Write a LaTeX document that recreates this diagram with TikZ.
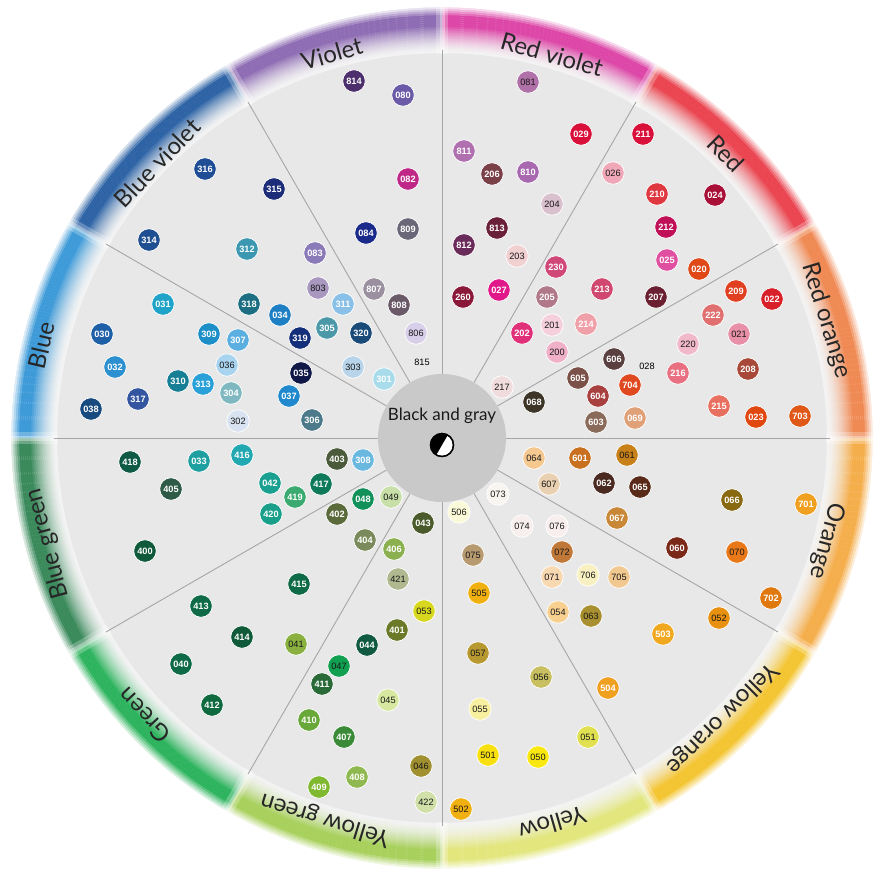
\documentclass[tikz,border=0pt]{standalone}
\usepackage{fontspec}
\setmainfont{Lato}
\newfontfamily\numfont{Liberation Sans}
\newfontfamily\labfont{Lato}
\definecolor{graybg}{HTML}{E8E8E8}
\definecolor{ringin}{HTML}{F3F3F3}
\definecolor{centergray}{HTML}{C9C9C9}
\definecolor{linegray}{HTML}{A6A6A6}
\definecolor{cViolet}{HTML}{8F6DB4}
\definecolor{cRedViolet}{HTML}{DD48A8}
\definecolor{cRed}{HTML}{EA4550}
\definecolor{cRedOrange}{HTML}{F08A55}
\definecolor{cOrange}{HTML}{F5AE4C}
\definecolor{cYellowOrange}{HTML}{F4C532}
\definecolor{cYellow}{HTML}{E2E67C}
\definecolor{cYellowGreen}{HTML}{A8D05C}
\definecolor{cGreen}{HTML}{2EB45E}
\definecolor{cBlueGreen}{HTML}{3A8A5C}
\definecolor{cBlue}{HTML}{3F9BD8}
\definecolor{cBlueViolet}{HTML}{2E64A6}
\begin{document}
\begin{tikzpicture}[x=1pt,y=1pt,
  dot/.style={circle, minimum size=22.5pt, inner sep=0pt, draw=white, line width=0.7pt,
    font=\numfont\fontsize{9.2}{10}\selectfont},
  tW/.style={text=white, font=\numfont\fontsize{9.2}{10}\selectfont\bfseries},
  tK/.style={text=black!90},
  tN/.style={draw=none, text=black},
  seclabel/.style={font=\labfont\fontsize{24}{26}\selectfont, text=black!85, inner sep=0pt},
  sepline/.style={linegray, line width=0.9pt}]
\useasboundingbox (0,0) rectangle (884,-876);
\fill[white] (0,0) rectangle (884,-876);
\begin{scope}[shift={(442,-438)}]
  \fill[graybg] (0,0) circle (386);
  % colour ring built from thin bands
  \foreach \a/\cc in {75/cRedViolet, 45/cRed, 15/cRedOrange, -15/cOrange, -45/cYellowOrange,
      -75/cYellow, -105/cYellowGreen, -135/cGreen, -165/cBlueGreen, 165/cBlue,
      135/cBlueViolet, 105/cViolet} {
    \foreach \rr in {386,388,...,422} {
      \pgfmathsetmacro\pp{\rr<412 ? 100*((\rr-386)/26)^1.5 : 100}
      \draw[line width=2.3pt, color=\cc!\pp!ringin] (\a-15:\rr) arc[start angle=\a-15, end angle=\a+15, radius=\rr];
    }
    \foreach \rr in {424,426,...,432} {
      \pgfmathsetmacro\pp{100-(\rr-422)*10}
      \draw[line width=2.3pt, color=\cc!\pp!white] (\a-15:\rr) arc[start angle=\a-15, end angle=\a+15, radius=\rr];
    }
  }
  % soft white seams between colours
  \foreach \b in {0,30,...,330} {
    \draw[white, opacity=0.25, line width=12pt] (\b:384) -- (\b:436);
    \draw[white, opacity=0.35, line width=5pt] (\b:384) -- (\b:436);
  }
  % sector lines
  \foreach \b in {0,30,...,330} {
    \draw[sepline] (\b:64) -- (\b:388);
  }
  % centre
  \node[circle, fill=centergray, minimum size=128pt, inner sep=0pt] (center) at (0,0) {};
  \node[font=\labfont\fontsize{17}{19}\selectfont, text=black!90, inner sep=0pt] (bgtext) at (0,22) {Black and gray};
  \node[circle, fill=white, draw=black, line width=1.3pt, minimum size=23pt, inner sep=0pt] (icon) at (0,-7) {};
  \fill[black] (5.75,2.96) arc[start angle=60, end angle=240, radius=11.5] -- cycle;
  \draw[black, line width=1.3pt] (0,-7) circle (11.5);
  % sector labels
  \foreach \a/\rr/\nm/\txt in {106/400/lv/Violet, 74/399/lrv/Red violet, 45/402/lr/Red,
      17/402/lro/Red orange, -15/398/lo/Orange, -45/396/lyo/Yellow orange,
      -74/401/ly/Yellow, -107/399/lyg/Yellow green, -137/407/lg/Green,
      -165/408/lbg/Blue green, 167/411/lb/Blue, 136/396/lbv/Blue violet} {
    \node[seclabel, rotate=\a-90] (\nm) at (\a:\rr) {\txt};
  }
\end{scope}
% colour dots
\foreach \nn/\xx/\yy/\cc/\tc in {
814/354/81/4E2F6E/W, 080/403/95/6A5AA8/W, 082/408/179/C02888/W, 084/366/233/1A2A8A/W,
809/408/229/6A6878/W, 083/315/253/8A7AB8/W, 803/318/288/A898C0/K, 807/374/289/9A90A0/W,
808/399/305/6A5A68/W, 311/343/304/88C0E8/W, 806/416/333/D8D0EA/K, 815/422/362/E8E8E8/N,
316/205/169/1F4E96/W, 315/274/189/1C2C78/W, 314/149/240/1E4F92/W, 312/247/249/3B98B0/W,
318/249/304/1D6E82/W, 034/280/315/1F7FC4/W, 319/300/338/15307A/W, 305/327/328/4A98A8/W,
320/361/333/1A4A78/W, 303/353/367/B8D4EA/K, 301/384/379/A8DCEA/W, 031/163/304/1FA3C8/W,
030/102/334/1E5FA8/W, 309/209/334/1C8FC8/W, 307/238/340/5AAEE0/W, 032/115/367/2B8FD0/W,
036/227/365/A8D4EF/K, 035/301/373/101848/W, 310/178/381/167F95/W, 313/203/384/2AA0D8/W,
304/231/393/7FB8C0/W, 037/289/396/2088CC/W, 317/138/399/3456A0/W, 038/91/409/174A7E/W,
302/238/421/D8E2F0/K, 306/312/420/4D7A8A/W, 418/130/462/0F5A45/W, 033/199/461/1FA0A0/W,
416/242/455/22A8B0/W, 405/171/489/2E5A48/W, 042/270/483/1AA090/W, 419/295/497/3AAA70/W,
420/271/514/1AA08A/W, 400/145/551/0F5A3A/W, 403/337/459/4A5A3A/W, 308/363/460/6AB8E0/W,
417/321/484/0F7A5A/W, 048/363/499/12905A/W, 049/391/497/C8E0A8/K, 402/337/514/5A6A3A/W,
043/423/523/4A5A2A/W, 404/365/540/7A8A5A/W, 406/394/549/8AB050/W, 081/528/82/B070A8/K,
811/464/151/B070B0/W, 206/492/174/7A4048/W, 810/528/172/A868B0/W, 204/552/204/D8C0CC/K,
813/497/228/6A2038/W, 812/464/245/6A2A5A/W, 203/517/256/F0D0D0/K, 230/556/267/D04878/W,
260/463/297/8A1838/W, 027/499/290/E0188A/W, 205/547/297/B07888/W, 202/522/333/E0307A/W,
201/552/325/F5D0DC/K, 200/557/352/F0B0C8/K, 217/502/387/F0DCDC/K, 029/581/134/D8103A/W,
211/643/134/D8103A/W, 026/613/173/F0A8B8/K, 210/657/194/E03840/W, 024/715/195/A81038/W,
212/666/227/C01058/W, 025/667/260/E050A0/W, 020/699/269/E04818/W, 213/602/289/D04870/W,
207/656/297/6A2030/W, 214/586/324/F0A0A8/W, 209/736/291/E04020/W, 022/772/299/D82028/W,
222/713/315/E07070/W, 021/739/334/E890A8/K, 220/688/344/F0B8C8/K, 606/614/359/5A4040/W,
028/647/366/E8E8E8/N, 216/678/373/E87080/W, 208/748/369/A84838/W, 605/578/378/7A5048/W,
704/630/385/E04820/W, 604/598/396/A84040/W, 215/719/406/E87060/W, 023/756/417/E04810/W,
703/800/416/E05818/W, 603/596/422/8A6A58/W, 069/635/418/E0A078/W, 068/534/402/3D3528/W,
064/534/458/F5C890/K, 607/549/484/E8D0B0/K, 601/580/458/C87020/W, 061/627/455/C88018/K,
062/604/483/4A2A20/W, 065/640/487/5A2A18/W, 066/732/500/8A6A10/W, 701/806/504/F0A020/W,
067/617/518/C88838/W, 060/677/548/7A2818/W, 070/737/552/E87818/K, 072/562/552/C07838/K,
076/557/526/F8EEEE/K, 073/498/494/F8F4F0/K, 506/459/512/FAFAD8/K, 074/522/526/F8EEEE/K,
075/473/555/B89A70/K, 071/552/577/F8D8B0/K, 706/588/575/F8F0C0/K, 705/619/577/F0C890/K,
054/558/612/F8D090/K, 063/591/616/A89030/K, 702/771/598/E07810/W, 052/719/618/E89010/K,
503/663/634/F0A820/W, 504/608/688/F0A020/W, 051/588/737/E0E050/K, 505/479/593/F0B010/K,
057/478/653/B89830/K, 056/541/677/C8C060/K, 055/480/709/F8F0A0/K, 501/488/755/F8E010/K,
050/538/757/F8E810/K, 502/461/809/F0B010/K, 421/398/579/B0B890/K, 053/424/611/D8D820/K,
401/397/630/6A7A28/W, 044/367/645/0F5A40/W, 047/339/666/10A050/K, 411/322/684/2A6A38/W,
045/388/700/D8E8A0/K, 410/309/720/68A838/W, 407/344/737/3A8A38/W, 046/421/766/A09030/K,
408/357/777/90B850/W, 409/319/787/80B830/W, 422/426/802/D0E0A8/K, 415/299/584/0F6A48/W,
413/201/606/0F6A48/W, 414/242/637/0F5A38/W, 041/296/644/8AB040/K, 040/181/664/0F6A48/W,
412/212/705/0F6A40/W} {
  \definecolor{dc}{HTML}{\cc}
  \node[dot, fill=dc, t\tc] (c\nn) at (\xx,-\yy) {\nn};
}
\end{tikzpicture}
\end{document}
